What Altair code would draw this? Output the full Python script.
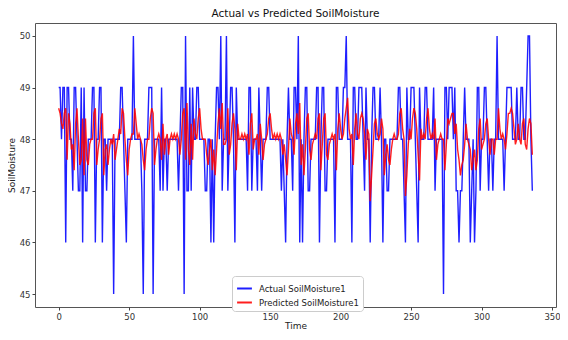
import altair as alt
import pandas as pd

series_names = ["Actual SoilMoisture1", "Predicted SoilMoisture1"]
x_ticks = [0, 50, 100, 150, 200, 250, 300, 350]
y_ticks = [45, 46, 47, 48, 49, 50]

actual = [
    49, 49, 48, 49, 49, 46, 49, 49, 48, 48,
    47, 49, 49, 48, 47, 47, 49, 46, 49, 47,
    47, 48, 48, 48, 49, 49, 46, 48, 48, 49,
    49, 46, 48, 48, 47, 48, 48, 48, 48, 45,
    48, 48, 48, 48, 49, 49, 48, 47, 46, 48,
    48, 48, 48, 50, 48, 48, 48, 48, 48, 47,
    45, 48, 48, 48, 49, 49, 49, 45, 48, 48,
    48, 48, 47, 49, 47, 48, 48, 47, 48, 48,
    48, 48, 48, 48, 48, 47, 48, 49, 49, 45,
    50, 47, 47, 49, 47, 49, 48, 48, 49, 49,
    48, 48, 48, 48, 47, 47, 48, 48, 46, 48,
    46, 48, 49, 49, 48, 50, 47, 48, 48, 50,
    47, 48, 49, 49, 48, 46, 49, 48, 48, 48,
    48, 48, 48, 48, 47, 49, 49, 47, 48, 48,
    48, 47, 49, 48, 47, 48, 48, 48, 49, 49,
    48, 48, 48, 48, 48, 48, 48, 48, 47, 48,
    47, 46, 48, 49, 48, 48, 47, 49, 49, 48,
    50, 46, 48, 46, 48, 49, 49, 47, 47, 48,
    48, 48, 48, 49, 49, 46, 48, 49, 49, 47,
    47, 48, 48, 48, 48, 48, 46, 49, 49, 48,
    48, 48, 49, 49, 50, 48, 48, 48, 46, 49,
    49, 48, 48, 49, 49, 49, 48, 47, 49, 48,
    48, 46, 48, 49, 49, 48, 48, 48, 49, 48,
    46, 48, 48, 47, 47, 48, 48, 48, 48, 48,
    48, 49, 49, 48, 48, 47, 46, 49, 48, 48,
    49, 49, 49, 48, 47, 46, 49, 48, 48, 48,
    49, 49, 48, 48, 48, 48, 49, 47, 48, 48,
    48, 48, 48, 45, 49, 49, 48, 49, 49, 49,
    48, 49, 47, 47, 46, 47, 47, 48, 49, 48,
    48, 48, 46, 47, 48, 46, 47, 49, 49, 47,
    48, 48, 49, 49, 48, 47, 48, 48, 47, 48,
    48, 50, 48, 48, 48, 48, 47, 48, 49, 49,
    49, 49, 48, 48, 48, 49, 48, 48, 49, 49,
    48, 48, 49, 50, 50, 48, 47,
]

predicted = [
    48.6, 48.5, 48.3, 48.2, 48.5, 48.6, 47.6, 48.5, 48.3, 47.8,
    47.9, 47.4, 48.3, 48.6, 48.0, 47.5, 47.6, 48.4, 47.3, 48.4,
    47.6, 47.5, 47.9, 48.0, 48.0, 48.5, 48.6, 47.5, 47.8, 48.0,
    48.4, 48.5, 47.3, 47.8, 47.9, 47.5, 47.8, 48.0, 47.9, 48.1,
    47.6, 47.8, 48.0, 48.2, 48.1, 48.6, 48.5, 48.0, 47.6, 47.3,
    47.8, 48.0, 48.1, 48.1, 48.6, 48.3, 48.0, 48.1, 48.0, 47.9,
    47.6, 47.4, 47.8, 48.0, 48.0, 48.4, 48.6, 48.5, 47.5, 47.8,
    48.0, 48.1, 48.0, 47.6, 48.3, 47.7, 48.0, 48.1, 47.7, 48.0,
    48.1, 48.0, 48.1, 48.0, 48.1, 48.0, 47.7, 48.0, 48.5, 48.6,
    47.6, 48.7, 47.8, 47.5, 48.3, 47.6, 48.4, 48.1, 48.0, 48.4,
    48.6, 48.2, 48.0, 48.0, 48.0, 47.7, 47.5, 47.8, 48.0, 47.4,
    47.8, 47.3, 47.8, 48.3, 48.6, 48.2, 48.7, 47.9, 47.9, 48.0,
    48.6, 47.7, 47.9, 48.3, 48.5, 48.2, 47.4, 48.3, 48.0, 48.0,
    48.1, 48.0, 48.1, 48.0, 48.1, 47.7, 48.3, 48.5, 47.8, 48.0,
    48.0, 48.1, 47.7, 48.3, 48.0, 47.6, 47.9, 48.0, 48.1, 48.4,
    48.5, 48.2, 48.0, 48.1, 48.0, 48.1, 48.0, 48.1, 48.0, 47.7,
    47.9, 47.6, 47.3, 47.8, 48.4, 48.1, 48.0, 47.7, 48.3, 48.5,
    48.1, 48.7, 47.5, 47.9, 47.3, 47.8, 48.4, 48.5, 47.8, 47.6,
    47.9, 48.0, 48.1, 48.0, 48.4, 48.5, 47.4, 47.9, 48.4, 48.5,
    47.7, 47.6, 47.9, 48.0, 48.1, 48.0, 48.1, 47.4, 48.2, 48.5,
    48.2, 48.0, 48.1, 48.4, 48.6, 48.8, 48.2, 48.0, 48.1, 47.5,
    48.2, 48.5, 48.1, 48.0, 48.4, 48.5, 48.4, 48.1, 47.6, 48.2,
    48.1, 46.8, 47.3, 47.8, 48.3, 48.4, 48.1, 48.0, 48.1, 48.4,
    48.2, 47.3, 47.7, 47.9, 47.6, 47.5, 47.8, 48.0, 48.1, 48.0,
    48.0, 48.1, 48.5, 48.6, 48.2, 48.0, 46.9, 47.3, 47.9, 48.2,
    48.0, 48.4, 48.6, 48.5, 48.2, 47.7, 47.2, 48.2, 48.0, 48.1,
    48.0, 48.4, 48.6, 48.2, 48.0, 48.1, 48.0, 48.4, 47.6, 47.9,
    48.0, 48.1, 48.0, 48.0, 47.4, 47.9, 48.4, 48.3, 48.4, 48.5,
    48.5, 48.1, 48.3, 47.8, 47.6, 47.3, 47.5, 47.6, 47.9, 48.3,
    48.0, 47.9, 47.8, 47.4, 47.6, 47.8, 47.4, 47.6, 48.2, 48.4,
    47.8, 47.9, 48.0, 48.3, 48.4, 48.0, 47.7, 48.0, 48.0, 47.7,
    48.0, 48.0, 48.6, 48.2, 48.0, 48.1, 48.0, 47.8, 48.1, 48.5,
    48.5, 48.6, 48.5, 48.2, 47.9, 48.0, 48.3, 48.0, 47.9, 48.3,
    48.4, 47.9, 47.8, 48.2, 48.4, 48.3, 47.7,
]

n = len(actual)
m = len(predicted)

df = pd.DataFrame({
    "Time": list(range(n)) + list(range(m)),
    "value": actual + predicted,
    "series": [series_names[0]] * n + [series_names[1]] * m,
})

FONT = "DejaVu Sans"

axis_common = dict(grid=False, domain=False, tickSize=3, tickColor="#444",
                   labelColor="#333", labelFontSize=8.5, labelFont=FONT,
                   titleFont=FONT, titleFontSize=9, titleFontWeight="normal",
                   titleColor="#222", labelPadding=2, format="d")

chart = alt.Chart(df).mark_line(strokeWidth=1.4, opacity=0.88).encode(
    x=alt.X(
        "Time:Q",
        scale=alt.Scale(domain=[-16.8, 352.8], nice=False, zero=False),
        axis=alt.Axis(values=x_ticks, title="Time", titlePadding=1, **axis_common),
    ),
    y=alt.Y(
        "value:Q",
        scale=alt.Scale(domain=[44.75, 50.25], nice=False, zero=False),
        axis=alt.Axis(values=y_ticks, title="SoilMoisture", titlePadding=3, **axis_common),
    ),
    color=alt.Color(
        "series:N",
        scale=alt.Scale(domain=series_names, range=["#0000ff", "#ff0000"]),
        legend=alt.Legend(
            title=None, orient="none", legendX=197, legendY=253,
            direction="vertical", symbolType="stroke", symbolStrokeWidth=2,
            symbolSize=220, labelFontSize=8.5, labelFont=FONT, labelColor="#222",
            strokeColor="#cccccc", fillColor="white", padding=4,
            cornerRadius=3, rowPadding=1, labelOffset=6,
        ),
    ),
).properties(
    width=521,
    height=284,
    title=alt.TitleParams("Actual vs Predicted SoilMoisture", font=FONT,
                          fontSize=10.5, fontWeight="normal", color="#111",
                          offset=4, anchor="middle"),
    padding={"left": 27, "top": 15, "right": 4, "bottom": 25},
    autosize=alt.AutoSizeParams(type="none"),
).configure_view(stroke="#555", strokeWidth=1)

chart.save("out.html", embed_options={"renderer": "svg", "actions": False})
